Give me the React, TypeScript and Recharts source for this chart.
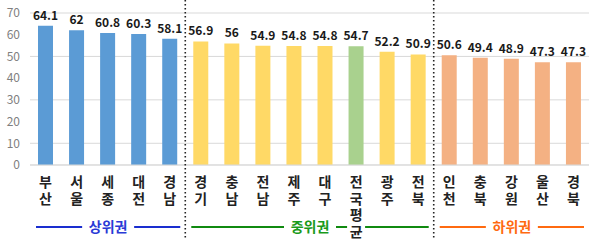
import React from "react";
import { BarChart, Bar, XAxis, YAxis, CartesianGrid, LabelList, Cell } from "recharts";

const regions = ["부산", "서울", "세종", "대전", "경남", "경기", "충남", "전남", "제주", "대구", "전국평균", "광주", "전북", "인천", "충북", "강원", "울산", "경북"];
const scores = [64.1, 62, 60.8, 60.3, 58.1, 56.9, 56, 54.9, 54.8, 54.8, 54.7, 52.2, 50.9, 50.6, 49.4, 48.9, 47.3, 47.3];
const yTicks = [0, 10, 20, 30, 40, 50, 60, 70];

// tiers: label, first index, count
const tiers = [
  { name: "상위권", start: 0, count: 5, line: "#1a2ecf", text: "#2a3ad6" },
  { name: "중위권", start: 5, count: 8, line: "#108a10", text: "#1a9a1a" },
  { name: "하위권", start: 13, count: 5, line: "#ff6a10", text: "#ff6a10" },
];
const AVG = "전국평균";

const barColor = (i: number) => {
  if (regions[i] === AVG) return "#A9D18E";
  if (i < 5) return "#5B9BD5";
  if (i < 13) return "#FFD966";
  return "#F4B183";
};

const data = regions.map((name, i) => ({ name, score: scores[i] }));

const FONT = "'Noto Sans CJK KR', 'Noto Sans', sans-serif";

function RegionTick(props: any) {
  const { x, y, payload } = props;
  const half = payload.offset || 559 / 18 / 2;
  const band = half * 2;
  const idx = payload.index;
  const chars = String(payload.value).split("");
  const parts: React.ReactNode[] = [];

  tiers.forEach((t) => {
    const left = x - half;
    if (idx === t.start) {
      const x0 = left + 6;
      const x1 = left + band * t.count - 5;
      const mid = (x0 + x1) / 2;
      const tw = 46;
      parts.push(
        <g key={t.name}>
          <line x1={x0} x2={mid - tw / 2 - 3} y1={227} y2={227} stroke={t.line} strokeWidth={2} />
          <line x1={mid + tw / 2 + 3} x2={x1} y1={227} y2={227} stroke={t.line} strokeWidth={2} />
          <text x={mid} y={232} textAnchor="middle" fontSize={14} fontWeight="bold" fill={t.text} fontFamily={FONT}>
            {t.name}
          </text>
        </g>
      );
    }
    // dotted divider after each tier except the last
    if (idx === t.start + t.count - 1 && t.start + t.count < regions.length) {
      parts.push(
        <line key={t.name + "-div"} x1={x + half} x2={x + half} y1={0} y2={240} stroke="#222" strokeWidth={1.6} strokeDasharray="1.5 2.5" />
      );
    }
  });

  if (payload.value === AVG) {
    parts.push(<rect key="gap" x={x - 9} y={205} width={18} height={35} fill="#fff" />);
  }

  // region names are stacked one syllable per line
  return (
    <g>
      {parts}
      {chars.map((c, i) => (
        <text key={i} x={x} y={y + 14 + i * 16.5} textAnchor="middle" fontSize={14} fontWeight="bold" fill="#222" fontFamily={FONT}>
          {c}
        </text>
      ))}
    </g>
  );
}

export default function App() {
  return (
    <div style={{ position: "absolute", left: 0, top: 0, background: "#fff" }}>
      <BarChart width={600} height={240} data={data} margin={{ top: 13, right: 11, left: 0, bottom: 0 }} barSize={15}>
        <CartesianGrid vertical={false} stroke="#d9d9d9" />
        <XAxis
          dataKey="name"
          interval={0}
          height={75}
          tickLine={false}
          axisLine={{ stroke: "#d9d9d9" }}
          tick={<RegionTick />}
        />
        <YAxis
          width={30}
          domain={[0, 70]}
          ticks={yTicks}
          axisLine={false}
          tickLine={false}
          tickMargin={4}
          tick={{ fontSize: 12, fill: "#7f7f7f", fontFamily: FONT }}
        />
        <Bar dataKey="score" isAnimationActive={false}>
          {data.map((d, i) => (
            <Cell key={d.name} fill={barColor(i)} />
          ))}
          <LabelList dataKey="score" position="top" offset={6} fontSize={12} fontWeight="bold" fill="#1a1a1a" fontFamily={FONT} />
        </Bar>
      </BarChart>
    </div>
  );
}
